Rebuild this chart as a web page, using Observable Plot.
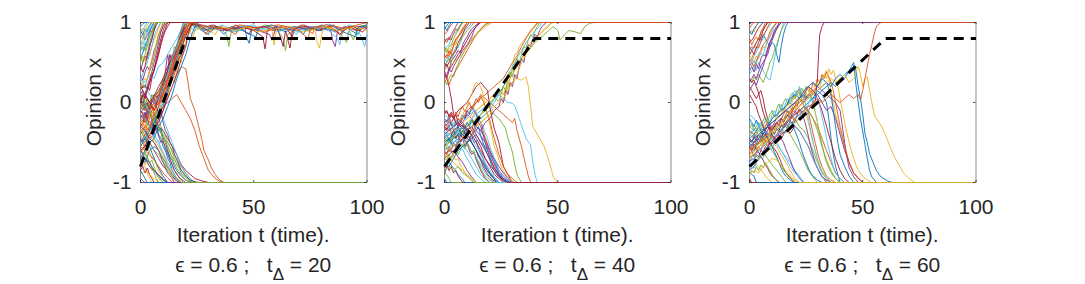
<!DOCTYPE html>
<html><head><meta charset="utf-8">
<script src="https://cdn.jsdelivr.net/npm/d3@7"></script>
<script src="https://cdn.jsdelivr.net/npm/@observablehq/plot@0.6"></script>
<style>
body{margin:0;background:#fff}
#wrap{position:relative;width:1085px;height:284px;overflow:hidden;font-family:"Liberation Sans",Arial,Helvetica,sans-serif}
</style>
</head><body><div id="wrap"></div>
<script>
// ---------- data ----------
const tDeltas = [20, 40, 60];
const epsilons = [0.6, 0.6, 0.6];
const dashStartX = -0.8;
const dashEndX = 0.8;
const tEnd = 100;
const xTicks = [0, 50, 100];
const yTicks = [-1, 0, 1];
const xLabel = "Iteration t (time).";
const yLabel = "Opinion x";

// each trajectory: flat list t0,x0,t1,x1,...
const panel1Paths = [
[0,.95, 1,.98, 2,1, 100,1],
[0,-.3, 2,-.35, 4,-.2, 6,-.1, 8,0, 10,.15, 12,.3, 14,.45, 16,.65, 18,.8, 20,.92, 22,1, 100,1],
[0,-.75, 2,-.8, 3,-.88, 4,-.95, 5,-1, 100,-1],
[0,-.5, 2,-.4, 4,-.3, 6,-.2, 8,-.05, 10,.2, 11,.4, 12,.6, 13,.45, 14,.3, 15,.5, 17,.7, 19,.85, 21,1, 100,1],
[0,-.4, 2,-.3, 4,-.25, 6,-.35, 8,-.3, 10,-.45, 12,-.5, 14,-.6, 16,-.72, 18,-.8, 20,-.88, 22,-.95, 24,-1, 100,-1],
[0,.85, 1,.9, 2,.96, 3,1, 100,1],
[0,-.1, 2,-.15, 4,-.25, 6,-.2, 8,-.3, 10,-.35, 12,-.45, 14,-.55, 16,-.65, 18,-.78, 20,-.85, 22,-.9, 24,-.95, 27,-.98, 30,-1, 100,-1],
[0,-.45, 2,-.5, 4,-.35, 6,-.3, 8,-.15, 10,0, 12,.2, 14,.4, 16,.6, 18,.8, 20,1, 26,.92, 30,.85, 31,.95, 40,.9, 46,.95, 47,.8, 48,.74, 49,.9, 55,.95, 62,.9, 68,.95, 74,.9, 80,.97, 86,.88, 90,.95, 96,.85, 98,.95, 100,.92],
[0,-.3, 2,-.2, 4,-.1, 6,0, 8,.05, 10,.15, 12,.2, 14,.3, 16,.35, 18,.45, 20,.42, 21,.25, 22,.05, 24,-.1, 25,-.22, 27,-.45, 28,-.6, 30,-.72, 31,-.8, 33,-.9, 35,-.97, 37,-1, 100,-1],
[0,.7, 1,.78, 2,.85, 3,.92, 4,.97, 5,1, 100,1],
[0,-.45, 2,-.55, 4,-.5, 6,-.6, 8,-.7, 10,-.8, 12,-.85, 14,-.92, 16,-.98, 18,-1, 100,-1],
[0,-.15, 2,-.2, 4,-.1, 6,0, 8,.1, 10,.2, 12,.35, 14,.5, 16,.7, 18,.85, 20,1, 25,.95, 30,.9, 35,.93, 38,.85, 39,.7, 40,.88, 45,.95, 50,.9, 55,.97, 60,.92, 63,.8, 64,.65, 65,.85, 70,.95, 75,.9, 80,.95, 86,.9, 90,.8, 91,.75, 92,.9, 94,.78, 96,.95, 100,.97],
[0,-.35, 2,-.4, 4,-.35, 6,-.2, 8,-.1, 10,-.2, 12,-.35, 14,-.5, 16,-.65, 18,-.8, 20,-.9, 22,-.95, 24,-1, 100,-1],
[0,-.1, 2,-.2, 4,-.05, 6,.1, 8,.05, 10,.25, 12,.4, 13,.6, 14,.5, 16,.7, 18,.88, 20,1, 100,1],
[0,-.7, 2,-.75, 4,-.6, 6,-.55, 8,-.6, 10,-.7, 12,-.8, 14,-.9, 16,-.96, 18,-1, 100,-1],
[0,-.2, 2,-.25, 4,-.1, 6,0, 8,.1, 10,.05, 12,.2, 14,.3, 16,.45, 18,.7, 19,.85, 21,1, 100,1],
[0,-.65, 2,-.5, 4,-.4, 6,-.5, 8,-.6, 10,-.72, 12,-.85, 14,-.93, 16,-1, 100,-1],
[0,-.6, 2,-.55, 4,-.45, 6,-.4, 8,-.2, 10,-.1, 12,.1, 14,.3, 16,.5, 18,.7, 20,.85, 21,1, 28,.96, 36,.9, 45,.94, 52,.9, 57,.85, 58,.78, 60,.95, 68,.9, 76,.95, 84,.9, 85,.76, 86,.7, 87,.9, 92,.95, 100,.95],
[0,-.25, 2,-.2, 4,-.3, 6,-.25, 8,-.35, 10,-.4, 12,-.55, 14,-.68, 16,-.75, 18,-.85, 20,-.92, 22,-.98, 26,-1, 100,-1],
[0,-.5, 2,-.45, 4,-.3, 6,-.25, 8,-.1, 10,.05, 12,.15, 14,.3, 16,.45, 18,.6, 20,.75, 22,.9, 23,1, 29,.9, 34,.95, 41,.88, 50,.95, 57,.9, 62,.95, 70,.88, 75,.95, 83,.9, 87,.8, 88,.72, 89,.9, 93,.95, 97,.85, 99,.7, 100,.85],
[0,.1, 2,0, 4,-.05, 6,.05, 8,.15, 10,.25, 12,.4, 14,.55, 16,.65, 18,.75, 20,.9, 22,1, 27,.93, 32,.97, 38,.9, 44,.95, 50,.9, 54,.82, 55,.67, 56,.9, 60,.95, 62,.8, 63,.7, 64,.9, 66,.68, 67,.9, 72,.97, 78,.9, 84,.95, 88,.85, 92,.95, 96,.9, 100,.95],
[0,.55, 1,.62, 2,.7, 3,.78, 4,.88, 5,.95, 6,1, 100,1],
[0,-.5, 2,-.4, 4,-.3, 6,-.2, 8,-.15, 10,-.05, 12,0, 14,.05, 16,.1, 18,0, 20,-.1, 22,-.2, 24,-.35, 26,-.55, 28,-.7, 30,-.85, 32,-.92, 34,-.97, 36,-1, 100,-1],
[0,-.25, 2,-.3, 4,-.2, 6,-.1, 8,-.05, 10,.1, 12,.25, 14,.35, 16,.5, 18,.65, 19,.8, 21,1, 23,.8, 24,.9, 28,.95, 33,.85, 35,.95, 42,.9, 47,.95, 52,.88, 58,.92, 59,.72, 60,.92, 66,.95, 72,.88, 77,.92, 78,.75, 79,.68, 80,.85, 81,.95, 88,.9, 95,.95, 100,.9],
[0,.4, 1,.5, 2,.58, 3,.55, 4,.68, 5,.8, 6,.9, 7,.97, 8,1, 100,1],
[0,-.6, 2,-.65, 4,-.75, 6,-.88, 7,-.95, 8,-1, 100,-1],
[0,.3, 1,.35, 2,.45, 3,.5, 4,.62, 5,.7, 6,.82, 7,.9, 9,1, 100,1],
[0,.2, 2,.1, 4,0, 6,-.1, 8,.05, 10,.15, 12,.2, 14,.35, 16,.5, 18,.6, 19,.75, 21,.9, 23,1, 100,1],
[0,-.5, 2,-.45, 4,-.55, 6,-.7, 8,-.82, 10,-.92, 12,-1, 100,-1],
[0,0, 2,-.1, 4,-.05, 6,-.1, 8,0, 10,.1, 12,.3, 14,.5, 16,.7, 18,.9, 19,1, 100,1],
[0,.2, 1,.25, 2,.3, 3,.28, 4,.42, 5,.55, 6,.6, 7,.75, 8,.85, 9,.93, 10,1, 100,1],
[0,-.3, 2,-.35, 4,-.45, 6,-.5, 8,-.6, 10,-.75, 12,-.88, 14,-.95, 15,-1, 100,-1],
[0,.6, 1,.5, 2,.6, 3,.7, 4,.75, 5,.85, 6,.95, 7,1, 100,1],
[0,-.15, 2,-.2, 4,-.3, 6,-.4, 8,-.5, 10,-.62, 12,-.75, 14,-.85, 16,-.95, 18,-1, 100,-1],
[0,-.6, 2,-.55, 4,-.4, 6,-.3, 8,-.25, 10,-.1, 12,.05, 14,.2, 16,.35, 18,.55, 20,.7, 21,.85, 22,.95, 24,1, 100,1],
[0,-.7, 2,-.6, 4,-.5, 6,-.45, 8,-.3, 10,-.2, 12,-.05, 14,.1, 16,.3, 18,.45, 20,.6, 22,.8, 24,.95, 26,1, 100,1],
[0,-.55, 2,-.6, 4,-.65, 6,-.72, 8,-.8, 10,-.88, 12,-.94, 14,-1, 100,-1],
[0,-.9, 2,-.85, 4,-.9, 6,-.95, 8,-1, 100,-1],
[0,.1, 1,.15, 2,.05, 3,.2, 4,.3, 5,.38, 6,.5, 7,.62, 8,.75, 9,.88, 10,.95, 11,1, 100,1],
[0,.1, 2,0, 4,-.1, 6,-.25, 8,-.3, 10,-.45, 12,-.55, 14,-.7, 16,-.82, 18,-.9, 20,-.97, 22,-1, 100,-1],
[0,.78, 1,.72, 2,.8, 3,.88, 4,.95, 5,1, 100,1],
[0,.45, 1,.38, 2,.45, 3,.6, 4,.72, 5,.78, 6,.9, 7,1, 100,1],
[0,-.8, 2,-.7, 4,-.75, 6,-.85, 8,-.92, 10,-.97, 12,-1, 100,-1],
[0,-.4, 2,-.3, 4,-.35, 6,-.15, 8,-.05, 10,.1, 12,.25, 14,.4, 16,.6, 18,.75, 20,.85, 21,.95, 23,1, 100,1],
[0,.88, 1,.93, 2,.9, 3,.97, 4,1, 100,1],
[0,-.95, 1,-.98, 2,-1, 100,-1],
[0,.65, 1,.7, 2,.65, 3,.75, 4,.82, 5,.9, 6,.94, 7,1, 100,1],
[0,.3, 2,.2, 4,.1, 6,0, 8,.05, 10,.15, 12,.35, 14,.55, 16,.7, 17,.85, 19,1, 100,1],
[0,0, 1,.1, 2,.05, 3,.15, 4,.25, 5,.35, 6,.4, 7,.55, 8,.68, 9,.8, 10,.9, 11,.97, 12,1, 100,1],
[0,-.85, 1,-.9, 2,-.95, 3,-1, 100,-1],
[0,-.05, 2,-.1, 4,0, 6,.05, 8,.1, 10,.2, 12,.3, 14,.45, 16,.6, 18,.75, 20,.9, 22,1, 30,.95, 37,.92, 44,.97, 51,.93, 61,.97, 69,.92, 74,.8, 75,.93, 82,.97, 90,.93, 100,1],
[0,-.2, 2,-.3, 4,-.4, 6,-.45, 8,-.55, 10,-.65, 12,-.78, 14,-.88, 16,-.95, 18,-1, 100,-1],
[0,-.6, 2,-.7, 4,-.8, 6,-.85, 8,-.9, 10,-.96, 12,-1, 100,-1],
[0,-.35, 2,-.45, 4,-.5, 6,-.6, 8,-.65, 10,-.75, 12,-.82, 14,-.9, 16,-.95, 18,-1, 100,-1]
];
const panel1More = [
[0,.9, 1,.85, 2,.92, 3,.88, 4,.96, 5,1, 100,1],
[0,.8, 1,.86, 2,.78, 3,.84, 4,.9, 5,.87, 6,.95, 7,1, 100,1],
[0,.5, 1,.58, 2,.52, 3,.62, 4,.58, 5,.7, 6,.78, 7,.85, 8,.93, 9,1, 100,1],
[0,.35, 1,.28, 2,.38, 3,.45, 4,.4, 5,.52, 6,.65, 7,.72, 8,.85, 9,.92, 10,1, 100,1],
[0,.15, 1,.22, 2,.18, 3,.3, 4,.38, 5,.45, 6,.58, 7,.7, 8,.8, 9,.9, 10,.96, 11,1, 100,1],
[0,.72, 1,.65, 2,.75, 3,.7, 4,.82, 5,.9, 6,1, 100,1],
[0,.05, 1,-.05, 2,.1, 3,.2, 4,.15, 5,.3, 6,.42, 7,.5, 8,.62, 9,.75, 10,.85, 11,.92, 12,1, 100,1],
[0,-.05, 1,-.1, 2,-.02, 3,-.15, 4,-.1, 5,-.22, 6,-.3, 7,-.28, 8,-.4, 9,-.45, 10,-.55, 11,-.6, 12,-.7, 13,-.75, 14,-.85, 15,-.9, 16,-.95, 18,-1, 100,-1],
[0,-.2, 1,-.15, 2,-.25, 3,-.2, 4,-.1, 5,-.05, 6,-.15, 7,-.2, 8,-.3, 9,-.35, 10,-.5, 11,-.55, 12,-.62, 13,-.7, 14,-.78, 15,-.85, 16,-.88, 17,-.94, 19,-1, 100,-1],
[0,-.55, 1,-.5, 2,-.6, 3,-.55, 4,-.62, 5,-.7, 6,-.68, 7,-.78, 8,-.85, 9,-.9, 10,-.95, 11,-1, 100,-1],
[0,-.3, 1,-.25, 2,-.15, 3,-.1, 4,-.05, 5,.05, 6,0, 7,-.05, 8,-.15, 9,-.1, 10,-.25, 11,-.35, 12,-.4, 13,-.5, 14,-.55, 15,-.65, 16,-.7, 17,-.78, 18,-.85, 20,-.92, 22,-.97, 25,-1, 100,-1],
[0,-.65, 1,-.7, 2,-.62, 3,-.68, 4,-.75, 5,-.72, 6,-.8, 7,-.88, 8,-.92, 9,-.97, 10,-1, 100,-1],
[0,-.45, 1,-.4, 2,-.35, 3,-.42, 4,-.3, 5,-.35, 6,-.45, 7,-.5, 8,-.48, 9,-.6, 10,-.65, 11,-.72, 12,-.8, 13,-.85, 14,-.9, 16,-.96, 18,-1, 100,-1],
[0,-.85, 1,-.8, 2,-.88, 3,-.82, 4,-.9, 5,-.95, 6,-1, 100,-1],
[0,.05, 1,0, 2,-.08, 3,0, 4,-.1, 5,-.18, 6,-.15, 7,-.28, 8,-.35, 9,-.32, 10,-.45, 11,-.5, 12,-.6, 13,-.68, 14,-.72, 15,-.8, 16,-.85, 18,-.92, 20,-.97, 23,-1, 100,-1],
[0,-.25, 1,-.3, 2,-.2, 3,-.15, 4,-.2, 5,-.1, 6,-.05, 7,0, 8,.05, 9,0, 10,.1, 11,.2, 12,.15, 13,.3, 14,.4, 15,.35, 16,.5, 17,.6, 18,.7, 19,.8, 20,.88, 21,.95, 22,1, 100,1],
[0,-.4, 1,-.35, 2,-.42, 3,-.3, 4,-.25, 5,-.3, 6,-.2, 7,-.1, 8,-.15, 9,-.05, 10,0, 11,.1, 12,.05, 13,.2, 14,.3, 15,.25, 16,.4, 17,.55, 18,.5, 19,.65, 20,.75, 21,.85, 22,.92, 23,1, 100,1],
[0,.1, 1,.05, 2,-.05, 3,0, 4,-.08, 5,0, 6,.05, 7,-.02, 8,.1, 9,.2, 10,.3, 11,.25, 12,.4, 13,.5, 14,.6, 15,.55, 16,.7, 17,.8, 18,.85, 19,.95, 20,1, 100,1],
[0,-.1, 1,0, 2,-.05, 3,.05, 4,0, 5,.1, 6,.05, 7,.12, 8,.1, 9,.2, 10,.28, 11,.35, 12,.3, 13,.45, 14,.55, 15,.7, 16,.65, 17,.78, 18,.9, 19,.95, 20,1, 100,1],
[0,.3, 2,.25, 4,.35, 6,.3, 8,.45, 10,.5, 12,.6, 14,.7, 16,.8, 18,.9, 19,1, 24,.9, 25,.97, 32,.92, 36,.97, 43,.88, 44,.95, 50,.97, 53,.9, 56,.95, 61,.88, 65,.95, 69,.85, 70,.95, 77,.93, 83,.98, 89,.9, 92,.97, 97,.92, 100,.96],
[0,.05, 2,.1, 4,0, 6,.08, 8,.2, 10,.3, 12,.45, 14,.55, 16,.72, 18,.85, 20,.95, 21,1, 27,.95, 31,.88, 33,.95, 39,.9, 42,.97, 48,.85, 49,.93, 54,.95, 59,.9, 64,.95, 67,.82, 68,.93, 73,.95, 79,.9, 85,.97, 89,.9, 94,.95, 98,.88, 100,.94],
[0,-.55, 2,-.45, 4,-.35, 6,-.25, 8,-.15, 10,-.05, 12,.15, 14,.35, 16,.55, 18,.72, 20,.85, 22,.95, 24,1, 28,.9, 33,.95, 37,.85, 40,.95, 45,.9, 51,.82, 52,.93, 58,.97, 64,.88, 68,.95, 72,.85, 73,.93, 80,.9, 84,.97, 88,.9, 95,.82, 96,.93, 100,.97],
[0,-.35, 2,-.3, 4,-.15, 6,-.05, 8,.05, 10,.12, 12,.28, 14,.42, 16,.6, 18,.78, 20,.9, 22,1, 26,.95, 29,.85, 30,.93, 36,.95, 42,.85, 43,.92, 49,.95, 55,.88, 62,.95, 66,.9, 71,.97, 76,.86, 77,.93, 83,.95, 89,.85, 90,.95, 95,.9, 100,.95],
[0,-.75, 1,-.7, 2,-.78, 3,-.72, 4,-.8, 5,-.85, 6,-.82, 7,-.9, 8,-.95, 10,-1, 100,-1],
[0,-.15, 1,-.2, 2,-.12, 3,-.22, 4,-.3, 5,-.25, 6,-.35, 7,-.32, 8,-.42, 9,-.5, 10,-.48, 11,-.58, 12,-.65, 13,-.72, 14,-.78, 15,-.85, 16,-.9, 18,-.96, 20,-1, 100,-1],
[0,.15, 1,.1, 2,.02, 3,.05, 4,-.05, 5,-.02, 6,-.12, 7,-.2, 8,-.18, 9,-.3, 10,-.35, 11,-.42, 12,-.5, 13,-.55, 14,-.62, 15,-.7, 16,-.78, 17,-.82, 18,-.88, 20,-.94, 22,-.98, 24,-1, 100,-1],
[0,.85, 1,.8, 2,.87, 3,.93, 4,.9, 5,.97, 6,1, 100,1],
[0,.25, 1,.18, 2,.22, 3,.15, 4,.25, 5,.32, 6,.4, 7,.5, 8,.6, 9,.72, 10,.82, 11,.9, 12,.95, 13,1, 100,1]
];

const panel2Paths = [
[0,.98, 1,1, 100,1],
[0,-.45, 2,-.5, 4,-.4, 6,-.3, 8,-.2, 10,-.15, 12,-.1, 14,0, 16,.1, 18,.05, 20,0, 22,-.05, 24,-.1, 26,-.15, 28,-.2, 30,-.25, 31,-.2, 32,-.35, 34,-.55, 35,-.68, 36,-.8, 37,-.92, 38,-1, 100,-1],
[0,-.7, 2,-.6, 4,-.55, 6,-.5, 8,-.45, 10,-.4, 12,-.35, 14,-.3, 16,-.25, 18,-.2, 20,-.15, 22,-.1, 24,-.05, 26,0, 27,.1, 28,.2, 29,.3, 30,.45, 31,.6, 32,.62, 33,.7, 35,.78, 36,.82, 38,.88, 40,.97, 42,1, 100,1],
[0,-.3, 2,-.25, 4,-.3, 6,-.2, 8,-.25, 10,-.15, 12,-.2, 14,-.3, 16,-.35, 18,-.45, 20,-.6, 22,-.72, 24,-.85, 26,-.92, 28,-.97, 30,-1, 100,-1],
[0,-.5, 2,-.45, 4,-.55, 6,-.5, 8,-.4, 10,-.35, 12,-.3, 14,-.25, 16,-.2, 18,-.15, 20,-.1, 22,-.15, 24,-.2, 26,-.28, 27,-.33, 28,-.45, 30,-.62, 31,-.78, 32,-.9, 34,-1, 100,-1],
[0,-.6, 2,-.55, 4,-.5, 6,-.45, 8,-.4, 10,-.35, 12,-.3, 14,-.25, 16,-.2, 18,-.15, 20,-.1, 22,0, 24,.1, 26,.2, 28,.35, 30,.45, 32,.55, 34,.65, 36,.75, 38,.82, 40,.9, 42,.95, 43,1, 100,1],
[0,.4, 1,.3, 2,.2, 3,.05, 4,-.15, 5,-.25, 7,-.3, 9,-.35, 11,-.45, 13,-.55, 15,-.65, 17,-.75, 19,-.85, 21,-.92, 23,-1, 100,-1],
[0,.92, 1,.96, 2,1, 100,1],
[0,-.3, 2,-.35, 4,-.3, 6,-.25, 8,-.2, 10,-.1, 12,-.05, 14,0, 16,.05, 18,.1, 20,.15, 22,.2, 24,.25, 26,.3, 28,.4, 30,.5, 32,.58, 34,.7, 36,.8, 38,.9, 40,.95, 41,1, 100,1],
[0,-.6, 2,-.5, 4,-.45, 6,-.4, 8,-.3, 10,-.25, 12,-.2, 14,-.1, 16,-.05, 18,0, 20,.05, 22,.1, 24,.15, 26,.1, 28,.2, 30,.25, 32,.3, 34,.28, 36,.32, 37,.2, 38,-.05, 39,-.3, 40,-.35, 42,-.45, 44,-.55, 46,-.72, 47,-.82, 48,-.93, 50,-1, 100,-1],
[0,-.9, 2,-.7, 4,-.65, 6,-.55, 8,-.45, 10,-.5, 12,-.4, 14,-.35, 16,-.42, 18,-.5, 20,-.62, 22,-.7, 24,-.8, 26,-.88, 28,-.95, 30,-1, 100,-1],
[0,-.55, 2,-.5, 4,-.45, 6,-.4, 8,-.35, 10,-.3, 12,-.25, 14,-.2, 16,-.15, 18,-.05, 20,0, 22,.05, 24,.1, 26,.2, 28,.3, 30,.4, 32,.45, 34,.55, 36,.62, 38,.68, 40,.75, 42,.8, 44,.85, 46,.9, 48,.95, 50,.9, 51,.78, 53,.85, 55,.9, 58,.88, 60,.86, 62,.95, 64,.99, 66,1, 100,1],
[0,-.55, 2,-.6, 4,-.5, 6,-.45, 8,-.35, 10,-.3, 12,-.2, 14,-.15, 16,-.1, 18,-.05, 20,0, 22,.05, 24,.1, 26,.05, 28,0, 30,-.01, 31,-.04, 33,-.2, 35,-.37, 36,-.45, 38,-.53, 39,-.74, 40,-.91, 41,-1, 100,-1],
[0,-.35, 2,-.3, 4,-.2, 6,-.1, 8,-.05, 10,0, 12,.1, 14,.2, 16,.25, 18,.18, 19,.15, 20,-.05, 21,-.2, 22,-.33, 24,-.5, 25,-.65, 26,-.8, 28,-.9, 30,-1, 100,-1],
[0,-.95, 1,-1, 100,-1],
[0,.85, 1,.88, 2,.93, 3,.97, 4,1, 100,1],
[0,-.4, 2,-.45, 4,-.35, 6,-.3, 8,-.25, 10,-.2, 12,-.15, 14,-.1, 16,-.05, 18,0, 20,.05, 22,.1, 24,.15, 26,.1, 28,.25, 30,.35, 32,.45, 34,.55, 36,.65, 38,.75, 40,.82, 42,.85, 44,.92, 46,.97, 48,1, 100,1],
[0,.75, 1,.8, 2,.78, 3,.85, 4,.9, 5,.95, 6,1, 100,1],
[0,-.88, 1,-.9, 2,-.95, 3,-1, 100,-1],
[0,.65, 1,.7, 2,.72, 3,.8, 4,.85, 5,.88, 6,.93, 8,1, 100,1],
[0,-.25, 2,-.2, 4,-.35, 6,-.3, 8,-.45, 10,-.4, 12,-.35, 14,-.45, 16,-.55, 18,-.7, 20,-.8, 22,-.9, 24,-.95, 26,-1, 100,-1],
[0,-.8, 2,-.75, 4,-.82, 6,-.9, 8,-.96, 9,-1, 100,-1],
[0,.55, 1,.6, 2,.58, 3,.65, 4,.7, 5,.78, 6,.82, 7,.88, 8,.93, 10,1, 100,1],
[0,-.8, 2,-.75, 4,-.65, 6,-.6, 8,-.55, 10,-.45, 12,-.4, 14,-.3, 16,-.25, 18,-.2, 20,-.15, 22,-.05, 24,0, 26,.05, 28,.15, 30,.25, 32,.35, 34,.5, 36,.6, 38,.7, 40,.78, 42,.85, 44,.9, 46,.95, 47,1, 100,1],
[0,-.7, 2,-.65, 4,-.6, 6,-.68, 8,-.75, 10,-.85, 12,-.93, 14,-1, 100,-1],
[0,.45, 1,.5, 2,.55, 3,.5, 4,.6, 6,.7, 7,.75, 8,.82, 10,.9, 12,.96, 13,1, 100,1],
[0,-.6, 2,-.55, 4,-.5, 6,-.45, 8,-.55, 10,-.6, 12,-.7, 14,-.8, 16,-.9, 18,-.96, 20,-1, 100,-1],
[0,.35, 1,.3, 2,.4, 3,.45, 4,.5, 6,.6, 8,.68, 10,.78, 12,.88, 14,.95, 16,1, 100,1],
[0,-.5, 2,-.45, 4,-.4, 6,-.35, 8,-.4, 10,-.45, 12,-.5, 14,-.6, 16,-.72, 18,-.82, 20,-.9, 22,-.96, 24,-1, 100,-1],
[0,.25, 1,.3, 2,.22, 3,.3, 5,.4, 7,.5, 9,.6, 11,.7, 13,.8, 15,.88, 17,.95, 19,1, 100,1],
[0,.4, 2,.45, 4,.5, 6,.55, 8,.62, 10,.7, 12,.8, 14,.85, 16,.9, 18,.95, 21,1, 100,1],
[0,.3, 1,.35, 2,.42, 3,.38, 4,.45, 6,.55, 8,.65, 10,.72, 12,.82, 13,.9, 15,1, 100,1],
[0,.7, 1,.62, 2,.7, 3,.72, 4,.8, 6,.9, 7,.95, 8,1, 100,1],
[0,-.2, 2,-.3, 4,-.25, 6,-.35, 8,-.3, 10,-.4, 12,-.45, 14,-.55, 16,-.62, 18,-.75, 20,-.85, 22,-.93, 24,-1, 100,-1],
[0,.5, 1,.45, 2,.5, 3,.58, 5,.65, 6,.75, 8,.85, 9,.92, 11,1, 100,1],
[0,-.75, 2,-.8, 4,-.7, 6,-.6, 8,-.55, 10,-.5, 12,-.45, 14,-.4, 16,-.5, 18,-.55, 20,-.65, 22,-.75, 24,-.88, 26,-.95, 28,-1, 100,-1],
[0,.6, 1,.55, 2,.65, 3,.6, 4,.72, 5,.8, 7,.85, 9,.95, 10,1, 100,1],
[0,-.65, 2,-.7, 4,-.75, 6,-.8, 8,-.85, 10,-.9, 12,-.95, 14,-1, 100,-1],
[0,-.4, 2,-.35, 4,-.3, 6,-.25, 8,-.3, 10,-.35, 12,-.3, 14,-.4, 16,-.5, 18,-.6, 20,-.7, 22,-.82, 24,-.9, 26,-.97, 28,-1, 100,-1],
[0,-.85, 2,-.8, 4,-.85, 6,-.8, 8,-.88, 10,-.92, 12,-.97, 13,-1, 100,-1],
[0,-.15, 2,-.2, 4,-.3, 6,-.4, 8,-.45, 10,-.55, 12,-.6, 14,-.68, 16,-.78, 18,-.88, 20,-.95, 22,-1, 100,-1],
[0,-.1, 2,-.15, 4,-.2, 6,-.3, 8,-.25, 10,-.35, 12,-.4, 14,-.5, 16,-.6, 18,-.7, 20,-.78, 22,-.85, 24,-.92, 26,-.97, 28,-1, 100,-1]
];
const panel2More = [
[0,.95, 1,.9, 2,.96, 3,1, 100,1],
[0,.8, 1,.75, 2,.82, 3,.78, 4,.86, 5,.92, 6,.9, 7,.97, 8,1, 100,1],
[0,.62, 1,.68, 2,.6, 3,.7, 4,.75, 5,.72, 6,.82, 7,.86, 8,.9, 9,.95, 10,1, 100,1],
[0,.42, 1,.48, 2,.4, 3,.52, 4,.55, 5,.6, 6,.65, 7,.62, 8,.72, 9,.78, 10,.82, 11,.88, 12,.92, 14,.97, 16,1, 100,1],
[0,.28, 1,.22, 2,.3, 3,.35, 4,.32, 5,.42, 6,.48, 7,.55, 8,.6, 10,.7, 12,.78, 14,.86, 16,.92, 18,.97, 20,1, 100,1],
[0,.55, 1,.5, 2,.58, 3,.55, 4,.62, 5,.7, 6,.68, 7,.78, 8,.85, 9,.9, 11,.96, 12,1, 100,1],
[0,-.3, 1,-.35, 2,-.28, 3,-.4, 4,-.35, 5,-.45, 6,-.4, 7,-.5, 8,-.45, 9,-.55, 10,-.5, 11,-.6, 12,-.65, 13,-.62, 14,-.72, 15,-.78, 16,-.85, 17,-.9, 18,-.95, 20,-1, 100,-1],
[0,-.45, 1,-.4, 2,-.48, 3,-.42, 4,-.35, 5,-.4, 6,-.3, 7,-.35, 8,-.28, 9,-.32, 10,-.25, 11,-.3, 12,-.22, 13,-.28, 14,-.35, 15,-.3, 16,-.42, 17,-.5, 18,-.58, 19,-.65, 20,-.72, 21,-.8, 22,-.85, 23,-.9, 25,-.96, 27,-1, 100,-1],
[0,-.6, 1,-.65, 2,-.55, 3,-.6, 4,-.5, 5,-.55, 6,-.48, 7,-.4, 8,-.45, 9,-.35, 10,-.4, 11,-.3, 12,-.35, 13,-.25, 14,-.3, 15,-.2, 16,-.25, 17,-.35, 18,-.45, 19,-.52, 20,-.6, 21,-.7, 22,-.78, 23,-.85, 24,-.9, 26,-.96, 28,-1, 100,-1],
[0,-.5, 1,-.55, 2,-.62, 3,-.58, 4,-.68, 5,-.72, 6,-.7, 7,-.78, 8,-.82, 9,-.88, 10,-.92, 12,-.97, 13,-1, 100,-1],
[0,-.2, 1,-.25, 2,-.18, 3,-.25, 4,-.3, 5,-.28, 6,-.2, 7,-.25, 8,-.15, 9,-.2, 10,-.1, 11,-.15, 12,-.05, 13,-.1, 14,-.15, 15,-.25, 16,-.3, 17,-.4, 18,-.5, 19,-.6, 20,-.68, 21,-.75, 22,-.82, 24,-.9, 26,-.95, 29,-1, 100,-1],
[0,-.7, 1,-.72, 2,-.65, 3,-.7, 4,-.62, 5,-.58, 6,-.65, 7,-.6, 8,-.52, 9,-.58, 10,-.5, 11,-.55, 12,-.62, 13,-.6, 14,-.7, 15,-.75, 16,-.82, 17,-.88, 18,-.92, 20,-.97, 22,-1, 100,-1],
[0,-.35, 1,-.4, 2,-.3, 3,-.35, 4,-.28, 5,-.22, 6,-.3, 7,-.2, 8,-.15, 9,-.22, 10,-.18, 11,-.1, 12,-.15, 13,-.08, 14,-.12, 15,-.2, 16,-.25, 17,-.3, 18,-.38, 19,-.45, 20,-.55, 21,-.62, 22,-.7, 23,-.78, 24,-.85, 26,-.93, 28,-.97, 31,-1, 100,-1],
[0,-.82, 1,-.78, 2,-.85, 3,-.8, 4,-.88, 5,-.85, 6,-.92, 7,-.96, 8,-1, 100,-1],
[0,-.55, 1,-.5, 2,-.45, 3,-.52, 4,-.42, 5,-.45, 6,-.38, 7,-.42, 8,-.35, 9,-.4, 10,-.32, 11,-.38, 12,-.42, 13,-.5, 14,-.48, 15,-.58, 16,-.65, 17,-.7, 18,-.78, 19,-.82, 20,-.88, 22,-.94, 24,-1, 100,-1],
[0,-.25, 1,-.3, 2,-.22, 3,-.15, 4,-.2, 5,-.12, 6,-.18, 7,-.1, 8,-.05, 9,-.12, 10,-.05, 11,0, 12,-.08, 13,-.02, 14,.05, 15,0, 16,.08, 17,.02, 18,-.05, 19,-.15, 20,-.22, 21,-.35, 22,-.45, 23,-.55, 24,-.65, 25,-.72, 26,-.8, 27,-.85, 28,-.9, 30,-.95, 32,-1, 100,-1],
[0,-.5, 1,-.45, 2,-.4, 3,-.35, 4,-.3, 5,-.25, 6,-.2, 7,-.22, 8,-.15, 9,-.1, 10,-.05, 11,.05, 12,.1, 13,.2, 14,.25, 15,.22, 16,.2, 17,.1, 18,-.05, 19,-.15, 20,-.28, 21,-.4, 22,-.55, 23,-.62, 24,-.72, 25,-.8, 26,-.85, 27,-.9, 29,-.96, 31,-1, 100,-1],
[0,-.65, 2,-.6, 4,-.62, 6,-.5, 8,-.45, 10,-.5, 12,-.4, 14,-.3, 16,-.35, 18,-.25, 20,-.2, 22,-.1, 24,-.05, 25,.05, 26,0, 27,.15, 28,.1, 29,.25, 30,.2, 31,.35, 32,.3, 33,.45, 34,.55, 35,.5, 36,.65, 37,.72, 38,.7, 39,.8, 40,.85, 41,.82, 42,.9, 43,.95, 45,1, 100,1],
[0,-.45, 2,-.5, 4,-.42, 6,-.35, 8,-.38, 10,-.3, 12,-.22, 14,-.25, 16,-.15, 18,-.1, 20,-.05, 22,.05, 24,.02, 25,.1, 26,.2, 27,.15, 28,.3, 29,.38, 30,.32, 31,.48, 32,.55, 33,.5, 34,.6, 35,.7, 36,.68, 37,.78, 38,.85, 39,.82, 40,.9, 41,.95, 42,1, 100,1],
[0,-.4, 1,-.45, 2,-.38, 3,-.45, 4,-.5, 5,-.48, 6,-.55, 7,-.6, 8,-.58, 9,-.65, 10,-.7, 11,-.75, 12,-.8, 13,-.85, 14,-.9, 16,-.95, 18,-1, 100,-1],
[0,-.15, 1,-.1, 2,-.18, 3,-.12, 4,-.2, 5,-.15, 6,-.25, 7,-.3, 8,-.28, 9,-.38, 10,-.45, 11,-.42, 12,-.5, 13,-.55, 14,-.6, 15,-.68, 16,-.72, 17,-.8, 18,-.85, 19,-.9, 21,-.96, 23,-1, 100,-1]
];

const panel3Paths = [
[0,.7, 1,.65, 2,.7, 3,.75, 4,.8, 5,.78, 6,.85, 7,.8, 8,.75, 9,.7, 10,.75, 11,.72, 12,.6, 13,.5, 14,.7, 15,.85, 16,.95, 17,1, 100,1],
[0,-.45, 2,-.5, 4,-.4, 6,-.35, 8,-.3, 10,-.25, 12,-.2, 14,-.15, 16,-.05, 18,0, 20,.1, 22,.17, 23,.05, 24,-.05, 26,-.1, 28,-.2, 30,-.3, 32,-.45, 34,-.6, 36,-.75, 38,-.88, 40,-.95, 42,-1, 100,-1],
[0,-.65, 2,-.6, 4,-.55, 6,-.5, 8,-.45, 10,-.4, 12,-.35, 14,-.3, 16,-.2, 18,-.15, 20,-.1, 22,0, 24,.05, 26,.1, 28,.15, 30,.2, 32,.3, 34,.4, 35,.3, 36,.15, 37,0, 38,-.15, 40,-.35, 42,-.55, 44,-.75, 46,-.88, 48,-.95, 50,-1, 100,-1],
[0,.98, 1,1, 100,1],
[0,-.5, 2,-.45, 4,-.5, 6,-.4, 8,-.45, 10,-.35, 12,-.3, 14,-.35, 16,-.3, 18,-.4, 20,-.5, 22,-.6, 24,-.72, 26,-.85, 28,-.93, 30,-1, 100,-1],
[0,.35, 1,.4, 2,.45, 3,.4, 4,.5, 5,.45, 6,.4, 7,.35, 8,.3, 9,.28, 10,.4, 11,.55, 12,.68, 13,.8, 14,.9, 15,1, 100,1],
[0,.2, 1,.15, 2,.1, 3,.05, 4,.1, 5,.15, 6,.05, 7,-.1, 8,-.2, 9,-.3, 10,-.4, 12,-.5, 14,-.45, 16,-.35, 18,-.3, 20,-.2, 22,-.15, 24,-.1, 26,-.05, 28,-.02, 29,.02, 30,.3, 30.5,.6, 31,.85, 32,.95, 33,1, 100,1],
[0,-.55, 2,-.6, 4,-.5, 6,-.45, 8,-.4, 10,-.35, 12,-.3, 14,-.25, 16,-.2, 18,-.1, 20,-.05, 22,0, 24,.05, 26,.1, 28,.05, 30,.15, 32,.1, 34,0, 35,-.2, 36,-.45, 37,-.65, 38,-.8, 39,-.9, 40,-1, 100,-1],
[0,.93, 1,.97, 2,1, 100,1],
[0,.85, 1,.9, 2,.88, 3,.95, 4,1, 100,1],
[0,-.35, 2,-.4, 4,-.3, 6,-.35, 8,-.25, 10,-.3, 12,-.2, 14,-.15, 16,-.1, 18,-.05, 20,0, 22,.05, 24,0, 26,.1, 28,.15, 30,.1, 32,0, 34,-.1, 36,-.05, 38,-.2, 40,-.4, 42,-.6, 44,-.75, 46,-.88, 48,-.95, 50,-1, 100,-1],
[0,-.4, 2,-.45, 4,-.35, 6,-.4, 8,-.3, 10,-.35, 12,-.25, 14,-.2, 16,-.25, 18,-.15, 20,-.2, 22,-.3, 24,-.35, 26,-.45, 28,-.6, 30,-.75, 32,-.88, 34,-.95, 36,-1, 100,-1],
[0,-.25, 2,-.3, 4,-.35, 6,-.3, 8,-.4, 10,-.45, 12,-.5, 14,-.6, 16,-.68, 18,-.75, 20,-.85, 22,-.92, 24,-1, 100,-1],
[0,.75, 1,.78, 2,.82, 3,.88, 4,.93, 5,.97, 6,1, 100,1],
[0,-.7, 2,-.65, 4,-.6, 6,-.55, 8,-.5, 10,-.45, 12,-.4, 14,-.35, 16,-.25, 18,-.2, 20,-.15, 22,-.1, 24,-.05, 26,0, 28,.05, 30,.1, 32,.15, 34,.2, 36,.25, 38,.2, 40,.3, 42,.35, 44,.4, 45,.45, 46,.5, 47,.22, 48,0, 49,-.2, 51,-.53, 52,-.7, 53,-.85, 54,-.93, 56,-1, 100,-1],
[0,.65, 1,.7, 2,.68, 3,.75, 4,.8, 5,.87, 6,.92, 7,.96, 8,1, 100,1],
[0,-.8, 2,-.75, 4,-.8, 6,-.88, 8,-.95, 10,-1, 100,-1],
[0,-.85, 2,-.8, 4,-.7, 6,-.62, 8,-.55, 10,-.48, 12,-.42, 14,-.35, 16,-.28, 18,-.2, 20,-.12, 22,-.05, 24,.02, 26,.08, 28,.12, 30,.2, 32,.15, 34,.1, 36,.05, 38,0, 40,-.1, 41,-.3, 42,-.5, 43,-.68, 44,-.82, 46,-.93, 48,-1, 100,-1],
[0,-.8, 2,-.75, 4,-.7, 6,-.65, 8,-.6, 10,-.5, 12,-.45, 14,-.4, 16,-.35, 18,-.3, 20,-.25, 22,-.2, 24,-.15, 26,-.1, 28,-.2, 30,-.35, 32,-.55, 34,-.72, 36,-.85, 38,-.95, 40,-1, 100,-1],
[0,.55, 1,.5, 2,.58, 3,.62, 4,.7, 5,.75, 6,.8, 7,.88, 8,.93, 10,1, 100,1],
[0,-.55, 2,-.5, 4,-.45, 6,-.4, 8,-.3, 10,-.35, 12,-.25, 14,-.2, 16,-.1, 18,-.15, 20,-.05, 22,.05, 24,.1, 26,.2, 28,.15, 30,.05, 32,-.1, 34,-.3, 36,-.5, 38,-.7, 40,-.85, 42,-.95, 44,-1, 100,-1],
[0,-.5, 2,-.45, 4,-.4, 6,-.35, 8,-.3, 10,-.25, 12,-.2, 14,-.15, 16,-.1, 18,-.05, 20,0, 22,.05, 24,.1, 26,.05, 28,.1, 30,.15, 32,.2, 34,.25, 36,.2, 38,.3, 40,.35, 42,.3, 44,.4, 46,.45, 47,.4, 48,.2, 49,.05, 50,-.15, 51,-.39, 52,-.5, 53,-.64, 55,-.78, 56,-.85, 58,-.93, 61,-.98, 63,-1, 100,-1],
[0,.45, 1,.5, 2,.45, 3,.52, 4,.6, 5,.65, 6,.72, 8,.8, 9,.88, 10,.93, 12,1, 100,1],
[0,-.6, 2,-.55, 4,-.5, 6,-.55, 8,-.45, 10,-.5, 12,-.55, 14,-.65, 16,-.75, 18,-.85, 20,-.95, 22,-1, 100,-1],
[0,.25, 1,.3, 2,.35, 3,.3, 4,.38, 5,.45, 6,.5, 7,.55, 8,.6, 9,.7, 10,.78, 11,.85, 12,.92, 13,1, 100,1],
[0,-.7, 2,-.65, 4,-.7, 6,-.62, 8,-.7, 10,-.78, 12,-.85, 14,-.92, 16,-1, 100,-1],
[0,-.15, 2,-.2, 4,-.3, 6,-.35, 8,-.4, 10,-.45, 12,-.52, 14,-.6, 16,-.7, 18,-.8, 20,-.88, 22,-.94, 24,-1, 100,-1],
[0,.6, 1,.65, 2,.6, 3,.68, 4,.75, 5,.82, 6,.9, 7,.95, 8,1, 100,1],
[0,-.45, 2,-.4, 4,-.45, 6,-.35, 8,-.3, 10,-.2, 12,-.15, 14,-.1, 16,-.05, 18,.05, 20,.1, 22,.05, 24,.15, 26,.2, 28,.25, 30,.2, 32,.3, 34,.25, 36,.1, 37,-.1, 38,-.3, 39,-.5, 40,-.65, 42,-.8, 44,-.92, 46,-1, 100,-1],
[0,.5, 1,.55, 2,.62, 3,.7, 4,.68, 5,.76, 6,.84, 7,.88, 8,.94, 9,1, 100,1],
[0,-.6, 2,-.55, 4,-.5, 6,-.45, 8,-.4, 10,-.35, 12,-.3, 14,-.25, 16,-.2, 18,-.15, 20,-.1, 22,-.05, 24,0, 26,.05, 28,.1, 30,.15, 32,.2, 34,.25, 36,.3, 38,.25, 40,.3, 42,.35, 44,.25, 46,.3, 48,.45, 49,.35, 50,.2, 51,.3, 52,.32, 53,.15, 54,0, 55,-.15, 56,-.2, 58,-.28, 60,-.4, 62,-.55, 64,-.68, 66,-.78, 68,-.88, 70,-.94, 73,-1, 100,-1],
[0,.15, 1,.2, 2,.25, 3,.22, 4,.3, 5,.38, 6,.45, 7,.55, 8,.65, 9,.75, 10,.82, 11,.9, 12,.95, 14,1, 100,1],
[0,-.3, 2,-.35, 4,-.4, 6,-.5, 8,-.55, 10,-.6, 12,-.7, 14,-.8, 16,-.88, 18,-.95, 20,-1, 100,-1],
[0,-.75, 2,-.7, 4,-.6, 6,-.55, 8,-.5, 10,-.45, 12,-.4, 14,-.35, 16,-.3, 18,-.25, 20,-.3, 22,-.35, 24,-.45, 26,-.55, 28,-.7, 30,-.82, 32,-.92, 34,-1, 100,-1],
[0,-.95, 1,-1, 100,-1],
[0,-.88, 2,-.92, 3,-1, 100,-1],
[0,-.6, 2,-.55, 4,-.5, 6,-.45, 8,-.5, 10,-.4, 12,-.35, 14,-.3, 16,-.25, 18,-.2, 20,-.15, 22,-.1, 24,-.05, 26,-.1, 28,0, 30,.05, 32,0, 34,.05, 36,.1, 38,.05, 40,0, 42,.05, 44,.1, 46,.05, 48,.1, 49,.03, 50,.15, 51,.3, 52,.45, 53,.6, 54,.72, 55,.85, 56,.95, 58,1, 100,1],
[0,-.9, 2,-.85, 4,-.88, 6,-.8, 8,-.75, 10,-.7, 12,-.72, 14,-.78, 16,-.85, 18,-.92, 20,-.97, 22,-1, 100,-1]
];
const panel3More = [
[0,.9, 1,.85, 2,.92, 3,.96, 4,1, 100,1],
[0,.8, 1,.72, 2,.78, 3,.82, 4,.78, 5,.88, 6,.93, 7,1, 100,1],
[0,.6, 1,.55, 2,.5, 3,.58, 4,.55, 5,.62, 6,.7, 7,.68, 8,.78, 9,.85, 10,.92, 11,.96, 12,1, 100,1],
[0,.4, 1,.45, 2,.38, 3,.48, 4,.42, 5,.55, 6,.6, 7,.58, 8,.68, 9,.75, 10,.8, 11,.88, 12,.92, 13,.96, 14,1, 100,1],
[0,.3, 1,.25, 2,.32, 3,.28, 4,.35, 5,.3, 6,.25, 7,.32, 8,.4, 9,.5, 10,.55, 11,.65, 12,.72, 13,.82, 14,.9, 15,.96, 16,1, 100,1],
[0,.5, 1,.45, 2,.52, 3,.48, 4,.58, 5,.62, 6,.58, 7,.7, 8,.76, 9,.82, 10,.88, 11,.95, 12,1, 100,1],
[0,.3, 1,.25, 2,.28, 3,.2, 4,.12, 5,0, 6,-.12, 7,-.2, 8,-.3, 9,-.35, 10,-.42, 12,-.45, 14,-.4, 16,-.35, 18,-.38, 20,-.3, 22,-.35, 24,-.45, 26,-.55, 28,-.7, 30,-.82, 32,-.92, 34,-1, 100,-1],
[0,-.5, 1,-.55, 2,-.48, 3,-.52, 4,-.45, 5,-.5, 6,-.42, 7,-.46, 8,-.38, 9,-.42, 10,-.35, 11,-.4, 12,-.32, 13,-.36, 14,-.28, 15,-.32, 16,-.25, 17,-.3, 18,-.22, 19,-.28, 20,-.35, 21,-.42, 22,-.5, 23,-.6, 24,-.68, 25,-.75, 26,-.82, 27,-.88, 28,-.92, 30,-.97, 32,-1, 100,-1],
[0,-.65, 1,-.6, 2,-.68, 3,-.62, 4,-.55, 5,-.6, 6,-.52, 7,-.48, 8,-.55, 9,-.45, 10,-.42, 11,-.48, 12,-.4, 13,-.35, 14,-.4, 15,-.3, 16,-.25, 17,-.32, 18,-.22, 19,-.18, 20,-.25, 21,-.15, 22,-.1, 23,-.18, 24,-.12, 25,-.05, 26,-.12, 27,-.25, 28,-.38, 29,-.5, 30,-.62, 31,-.72, 32,-.8, 33,-.86, 34,-.92, 36,-.97, 38,-1, 100,-1],
[0,-.4, 1,-.35, 2,-.42, 3,-.38, 4,-.32, 5,-.36, 6,-.28, 7,-.3, 8,-.22, 9,-.26, 10,-.2, 11,-.15, 12,-.22, 13,-.12, 14,-.08, 15,-.15, 16,-.05, 17,0, 18,-.08, 19,.02, 20,.08, 21,0, 22,.1, 23,.05, 24,-.05, 25,-.15, 26,-.25, 27,-.38, 28,-.5, 29,-.6, 30,-.7, 31,-.78, 32,-.85, 34,-.92, 36,-.97, 38,-1, 100,-1],
[0,-.75, 1,-.7, 2,-.72, 3,-.65, 4,-.68, 5,-.6, 6,-.62, 7,-.55, 8,-.58, 9,-.5, 10,-.52, 11,-.45, 12,-.48, 13,-.4, 14,-.45, 15,-.5, 16,-.58, 17,-.65, 18,-.72, 19,-.8, 20,-.86, 21,-.9, 22,-.95, 24,-1, 100,-1],
[0,-.3, 1,-.28, 2,-.35, 3,-.3, 4,-.25, 5,-.3, 6,-.22, 7,-.18, 8,-.25, 9,-.15, 10,-.1, 11,-.18, 12,-.08, 13,-.02, 14,-.1, 15,0, 16,.05, 17,-.02, 18,.08, 19,.12, 20,.05, 21,.15, 22,.1, 23,.18, 24,.12, 25,.2, 26,.15, 27,.08, 28,0, 29,-.12, 30,-.25, 31,-.4, 32,-.52, 33,-.65, 34,-.75, 35,-.82, 36,-.88, 38,-.95, 40,-1, 100,-1],
[0,-.85, 1,-.8, 2,-.82, 3,-.75, 4,-.72, 5,-.68, 6,-.7, 7,-.62, 8,-.6, 9,-.55, 10,-.58, 11,-.5, 12,-.45, 13,-.48, 14,-.4, 15,-.35, 16,-.38, 17,-.3, 18,-.25, 19,-.28, 20,-.2, 21,-.15, 22,-.2, 23,-.1, 24,-.05, 25,-.1, 26,-.02, 27,.05, 28,0, 29,.08, 30,.05, 31,-.05, 32,-.18, 33,-.3, 34,-.45, 35,-.58, 36,-.7, 37,-.8, 38,-.88, 40,-.95, 42,-1, 100,-1],
[0,-.55, 1,-.6, 2,-.52, 3,-.58, 4,-.62, 5,-.68, 6,-.72, 7,-.78, 8,-.82, 9,-.88, 10,-.92, 12,-.97, 13,-1, 100,-1],
[0,-.2, 1,-.25, 2,-.3, 3,-.22, 4,-.28, 5,-.35, 6,-.4, 7,-.35, 8,-.45, 9,-.5, 10,-.55, 11,-.62, 12,-.68, 13,-.75, 14,-.82, 15,-.88, 16,-.92, 18,-.97, 20,-1, 100,-1],
[0,-.6, 1,-.55, 2,-.58, 3,-.5, 4,-.52, 5,-.45, 6,-.48, 7,-.4, 8,-.42, 9,-.35, 10,-.3, 11,-.35, 12,-.25, 13,-.28, 14,-.2, 15,-.22, 16,-.15, 17,-.1, 18,-.15, 19,-.05, 20,0, 21,-.05, 22,.05, 23,.1, 24,.05, 25,.15, 26,.2, 27,.12, 28,.25, 29,.2, 30,.3, 31,.25, 32,.35, 33,.3, 34,.38, 35,.32, 36,.25, 37,.15, 38,0, 39,-.15, 40,-.3, 41,-.42, 42,-.55, 43,-.65, 44,-.75, 45,-.82, 46,-.88, 48,-.94, 50,-1, 100,-1],
[0,-.7, 1,-.65, 2,-.62, 3,-.58, 4,-.6, 5,-.52, 6,-.5, 7,-.45, 8,-.48, 9,-.4, 10,-.35, 11,-.38, 12,-.3, 13,-.25, 14,-.28, 15,-.2, 16,-.15, 17,-.18, 18,-.1, 19,-.05, 20,-.08, 21,0, 22,.05, 23,0, 24,.08, 25,.12, 26,.05, 27,.15, 28,.1, 29,.2, 30,.25, 31,.2, 32,.3, 33,.35, 34,.3, 35,.42, 36,.35, 37,.4, 38,.3, 39,.2, 40,.05, 41,-.1, 42,-.25, 43,-.38, 44,-.5, 45,-.6, 46,-.7, 47,-.78, 48,-.85, 50,-.92, 52,-.97, 54,-1, 100,-1],
[0,-.45, 1,-.5, 2,-.42, 3,-.48, 4,-.4, 5,-.45, 6,-.38, 7,-.42, 8,-.35, 9,-.3, 10,-.35, 11,-.28, 12,-.25, 13,-.3, 14,-.2, 15,-.25, 16,-.18, 17,-.15, 18,-.2, 19,-.12, 20,-.1, 21,-.15, 22,-.08, 23,-.12, 24,-.2, 25,-.3, 26,-.42, 27,-.55, 28,-.65, 29,-.75, 30,-.82, 31,-.88, 32,-.93, 34,-.97, 36,-1, 100,-1],
[0,-.9, 1,-.85, 2,-.88, 3,-.8, 4,-.85, 5,-.78, 6,-.82, 7,-.75, 8,-.8, 9,-.85, 10,-.9, 11,-.95, 13,-1, 100,-1],
[0,-.35, 1,-.4, 2,-.32, 3,-.38, 4,-.3, 5,-.25, 6,-.3, 7,-.22, 8,-.2, 9,-.25, 10,-.15, 11,-.1, 12,-.18, 13,-.08, 14,-.02, 15,-.1, 16,0, 17,.05, 18,-.02, 19,.1, 20,.15, 21,.08, 22,.2, 23,.12, 24,.05, 25,-.05, 26,-.2, 27,-.35, 28,-.48, 29,-.6, 30,-.7, 31,-.8, 32,-.87, 34,-.94, 36,-1, 100,-1],
[0,.1, 1,.05, 2,0, 3,-.05, 4,-.15, 5,-.22, 6,-.3, 7,-.38, 8,-.45, 9,-.5, 10,-.55, 11,-.58, 12,-.62, 13,-.68, 14,-.75, 15,-.82, 16,-.88, 18,-.94, 20,-1, 100,-1]
];

// ---------- style / layout ----------
const colorOrder = ["#0072BD","#D95319","#EDB120","#7E2F8E","#77AC30","#4DBEEE","#A2142F"];
const textColor = "#262626";
const fontFamily = "'Liberation Sans', Arial, Helvetica, sans-serif";
const frameLefts = [140.3, 444.4, 749.2];
const W = 330, H = 284, ML = 80, plotW = 226.5, MT = 22, MB = 102;

// extra trajectories are drawn between the first 21 and the rest
const splice = (a, b) => [...a.slice(0, 21), ...b, ...a.slice(21)];
const panelPaths = [splice(panel1Paths, panel1More), splice(panel2Paths, panel2More), splice(panel3Paths, panel3More)];
const wrap = document.getElementById("wrap");

panelPaths.forEach((paths, k) => {
  const rows = [];
  paths.forEach((flat, id) => {
    for (let j = 0; j < flat.length; j += 2) rows.push({id, t: flat[j], x: flat[j + 1]});
  });
  const dash = [
    {t: 0, x: dashStartX},
    {t: tDeltas[k], x: dashEndX},
    {t: tEnd, x: dashEndX}
  ];
  const svg = Plot.plot({
    width: W, height: H,
    marginLeft: ML, marginRight: W - ML - plotW, marginTop: MT, marginBottom: MB,
    style: {fontFamily, fontSize: "21px", color: textColor, background: "transparent", overflow: "visible"},
    x: {domain: [0, tEnd]},
    y: {domain: [-1, 1]},
    color: {type: "identity"},
    marks: [
      Plot.frame({stroke: "#8a8a8a", strokeWidth: 1}),
      Plot.line(rows, {x: "t", y: "x", z: "id", stroke: d => colorOrder[d.id % colorOrder.length], strokeWidth: 0.9, strokeLinejoin: "miter", strokeLinecap: "butt"}),
      Plot.line(dash, {x: "t", y: "x", stroke: "black", strokeWidth: 3, strokeDasharray: "10,7", strokeLinecap: "butt"}),
      Plot.ruleX(xTicks, {x: d => d, y1: -1, y2: -0.975, stroke: textColor, strokeWidth: 0.8}),
      Plot.ruleX(xTicks, {x: d => d, y1: 1, y2: 0.975, stroke: textColor, strokeWidth: 0.8}),
      Plot.ruleY(yTicks, {y: d => d, x1: 0, x2: 1.1, stroke: textColor, strokeWidth: 0.8}),
      Plot.ruleY(yTicks, {y: d => d, x1: 98.9, x2: 100, stroke: textColor, strokeWidth: 0.8}),
      Plot.axisX({ticks: xTicks, tickSize: 0, tickPadding: 17, tickFormat: d => String(d), label: null, fontSize: 21}),
      Plot.axisY({ticks: yTicks, tickSize: 0, tickPadding: 9, tickFormat: d => String(d), label: null, fontSize: 21})
    ]
  });
  svg.style.position = "absolute";
  svg.style.left = (frameLefts[k] - ML) + "px";
  svg.style.top = "0px";
  const s = d3.select(svg);
  const cx = ML + plotW / 2;
  s.append("text").attr("x", cx).attr("y", 242).attr("text-anchor", "middle")
    .attr("fill", textColor).attr("font-size", 21).attr("font-family", fontFamily).text(xLabel);
  const t2 = s.append("text").attr("x", cx).attr("y", 271.5).attr("text-anchor", "middle")
    .attr("fill", textColor).attr("font-size", 21).attr("font-family", fontFamily)
    .style("white-space", "pre");
  t2.append("tspan").text("\u03F5 = " + epsilons[k] + " ;   t");
  t2.append("tspan").attr("dy", 8).attr("font-size", 17).text("\u0394");
  t2.append("tspan").attr("dy", -8).text(" = " + tDeltas[k]);
  s.append("text").attr("transform", `translate(${ML - 39},${MT + 80}) rotate(-90)`)
    .attr("text-anchor", "middle").attr("fill", textColor).attr("font-size", 21)
    .attr("font-family", fontFamily).text(yLabel);
  wrap.appendChild(svg);
});
</script>
</body></html>
